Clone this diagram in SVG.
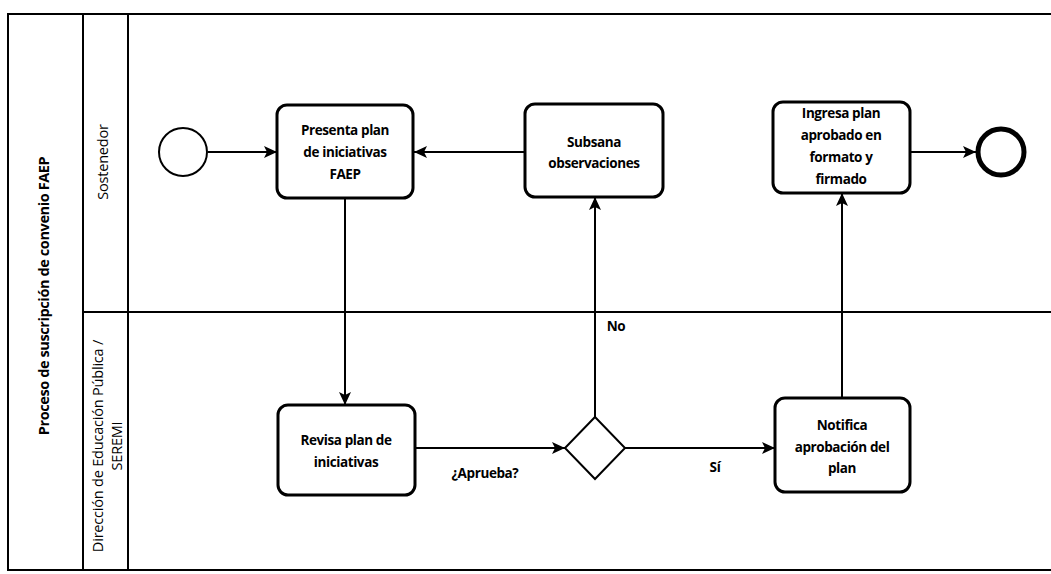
<svg xmlns="http://www.w3.org/2000/svg" width="1051" height="574" viewBox="0 0 1051 574">
<style>
.frame{fill:none;stroke:#000;stroke-width:2}
.task{fill:#fff;stroke:#000;stroke-width:3}
.conn{fill:none;stroke:#000;stroke-width:2}
.t{font-family:"Open Sans","Liberation Sans",sans-serif;font-weight:700;font-size:13.5px;fill:#000;text-anchor:middle;letter-spacing:-0.4px}
.lane{font-family:"Open Sans","Liberation Sans",sans-serif;font-size:14.5px;fill:#000;text-anchor:middle;letter-spacing:-0.2px}
</style>
<defs>
<marker id="arr" markerWidth="14" markerHeight="12" refX="13" refY="6" orient="auto" markerUnits="userSpaceOnUse">
<path d="M0,0 L13,6 L0,12 L3,6 Z" fill="#000"/>
</marker>
</defs>
<rect width="1051" height="574" fill="#fff"/>
<g id="pool">
<path class="frame" d="M1051,14 H8 V570 H1051"/>
<line class="frame" x1="83" y1="14" x2="83" y2="570"/>
<line class="frame" x1="128" y1="14" x2="128" y2="570"/>
<line class="frame" x1="83" y1="312" x2="1051" y2="312"/>
<text class="t" style="font-size:14.5px" transform="translate(49,296) rotate(-90)">Proceso de suscripción de convenio FAEP</text>
<text class="lane" transform="translate(108,162) rotate(-90)">Sostenedor</text>
<text class="lane" transform="translate(103,446) rotate(-90)">Dirección de Educación Pública /</text>
<text class="lane" transform="translate(122,446) rotate(-90)">SEREMI</text>
</g>
<g id="connectors">
<line class="conn" x1="208" y1="152" x2="277" y2="152" marker-end="url(#arr)"/>
<line class="conn" x1="525" y1="152" x2="414" y2="152" marker-end="url(#arr)"/>
<line class="conn" x1="345" y1="198" x2="345" y2="405" marker-end="url(#arr)"/>
<line class="conn" x1="415" y1="448" x2="565" y2="448" marker-end="url(#arr)"/>
<line class="conn" x1="595" y1="417" x2="595" y2="197" marker-end="url(#arr)"/>
<line class="conn" x1="625" y1="448" x2="775" y2="448" marker-end="url(#arr)"/>
<line class="conn" x1="842" y1="398" x2="842" y2="193" marker-end="url(#arr)"/>
<line class="conn" x1="910" y1="152" x2="976" y2="152" marker-end="url(#arr)"/>
<text class="t" x="485" y="478">¿Aprueba?</text>
<text class="t" x="616" y="331">No</text>
<text class="t" x="715" y="472">Sí</text>
</g>
<g id="start"><circle cx="183" cy="152" r="24" fill="#fff" stroke="#000" stroke-width="2"/></g>
<g id="presenta">
<rect class="task" x="277" y="105" width="136" height="93" rx="10"/>
<text class="t" x="345" y="135">Presenta plan</text>
<text class="t" x="345" y="157">de iniciativas</text>
<text class="t" x="345" y="179">FAEP</text>
</g>
<g id="subsana">
<rect class="task" x="525" y="104" width="138" height="93" rx="10"/>
<text class="t" x="594" y="147">Subsana</text>
<text class="t" x="594" y="168">observaciones</text>
</g>
<g id="ingresa">
<rect class="task" x="773" y="102" width="137" height="91" rx="10"/>
<text class="t" x="841" y="118">Ingresa plan</text>
<text class="t" x="841" y="140">aprobado en</text>
<text class="t" x="841" y="162">formato y</text>
<text class="t" x="841" y="184">firmado</text>
</g>
<g id="end"><circle cx="1001" cy="152" r="23" fill="#fff" stroke="#000" stroke-width="5"/></g>
<g id="revisa">
<rect class="task" x="278" y="405" width="137" height="90" rx="10"/>
<text class="t" x="346" y="445">Revisa plan de</text>
<text class="t" x="346" y="467">iniciativas</text>
</g>
<g id="gateway"><polygon points="595,417 625,448 595,479 565,448" fill="#fff" stroke="#000" stroke-width="2"/></g>
<g id="notifica">
<rect class="task" x="775" y="398" width="135" height="94" rx="10"/>
<text class="t" x="842" y="430">Notifica</text>
<text class="t" x="842" y="452">aprobación del</text>
<text class="t" x="842" y="473">plan</text>
</g>
</svg>
